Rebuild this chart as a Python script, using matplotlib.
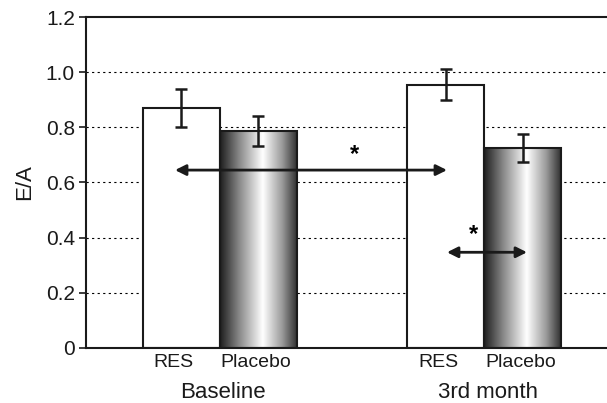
import numpy as np
import matplotlib.pyplot as plt
from matplotlib.colors import LinearSegmentedColormap

plt.rcParams['font.family'] = ['Liberation Sans', 'DejaVu Sans']

# datos
grupos = ['Baseline', '3rd month']
etiquetas = ['RES', 'Placebo', 'RES', 'Placebo']
valores = [0.871, 0.787, 0.954, 0.726]
errores = [0.068, 0.055, 0.056, 0.051]
posiciones = [1.234, 2.234, 4.675, 5.675]
ancho = 1.0

fig = plt.figure(figsize=(6.07, 4.03), dpi=100)
ax = fig.add_axes([0.1417, 0.1365, 0.8583, 0.8213])

# lineas punteadas horizontales
for yy in [0.2, 0.4, 0.6, 0.8, 1.0]:
    ax.axhline(yy, color='black', linestyle=(0, (2, 3)), lw=0.8, zorder=0)

# degradado tipo cilindro para las barras placebo
cmap = LinearSegmentedColormap.from_list('cil', [(0, '#1e1e1e'), (0.25, '#8a8a8a'), (0.55, '#ffffff'),
                                                  (0.8, '#9a9a9a'), (1, '#2a2a2a')])
grad = np.linspace(0, 1, 256).reshape(1, -1)

for i in range(len(valores)):
    x0 = posiciones[i] - ancho / 2
    if etiquetas[i] == 'RES':
        ax.bar(posiciones[i], valores[i], width=ancho, color='white', edgecolor='#1a1a1a', lw=1.5, zorder=2)
    else:
        b = ax.bar(posiciones[i], valores[i], width=ancho, color='none', edgecolor='#1a1a1a', lw=1.5, zorder=3)
        im = ax.imshow(grad, cmap=cmap, aspect='auto', extent=[x0, x0 + ancho, 0, valores[i]], zorder=2)
        im.set_clip_path(b[0])
    ax.errorbar(posiciones[i], valores[i], yerr=errores[i], fmt='none', ecolor='#1a1a1a',
                elinewidth=1.8, capsize=4, capthick=1.8, zorder=4)

# flechas de significancia
flecha = dict(arrowstyle='<|-|>', color='#1a1a1a', lw=2, mutation_scale=16, shrinkA=0, shrinkB=0)
ax.annotate('', xy=(1.156, 0.645), xytext=(4.688, 0.645), arrowprops=flecha, zorder=5)
ax.text(3.49, 0.70, '*', fontsize=17, fontweight='bold', ha='center', va='center')
ax.annotate('', xy=(4.688, 0.347), xytext=(5.727, 0.347), arrowprops=flecha, zorder=5)
ax.text(5.03, 0.41, '*', fontsize=17, fontweight='bold', ha='center', va='center')

ax.set_xlim(0, 6.766)
ax.set_ylim(0, 1.2)
ax.set_yticks([0, 0.2, 0.4, 0.6, 0.8, 1.0, 1.2])
ax.set_yticklabels(['0', '0.2', '0.4', '0.6', '0.8', '1.0', '1.2'])
ax.tick_params(axis='y', labelsize=15, length=5, width=1.2, pad=3, colors='#1a1a1a')
ax.set_xticks([])
ax.set_ylabel('E/A', fontsize=16, labelpad=8, color='#1a1a1a')

for s in ['left', 'bottom', 'top']:
    ax.spines[s].set_linewidth(1.5)
    ax.spines[s].set_color('#1a1a1a')
ax.spines['right'].set_visible(False)

tr = ax.get_xaxis_transform()
for i in range(len(etiquetas)):
    ax.text(posiciones[i] - (0.1 if etiquetas[i] == 'RES' else 0.03), -0.045, etiquetas[i],
            transform=tr, ha='center', va='center', fontsize=14, color='#1a1a1a')
for j in range(len(grupos)):
    centro = (posiciones[2 * j] + posiciones[2 * j + 1]) / 2
    ax.text(centro + 0.04, -0.133, grupos[j], transform=tr, ha='center', va='center',
            fontsize=16, color='#1a1a1a')

plt.savefig('out.png', dpi=100)
